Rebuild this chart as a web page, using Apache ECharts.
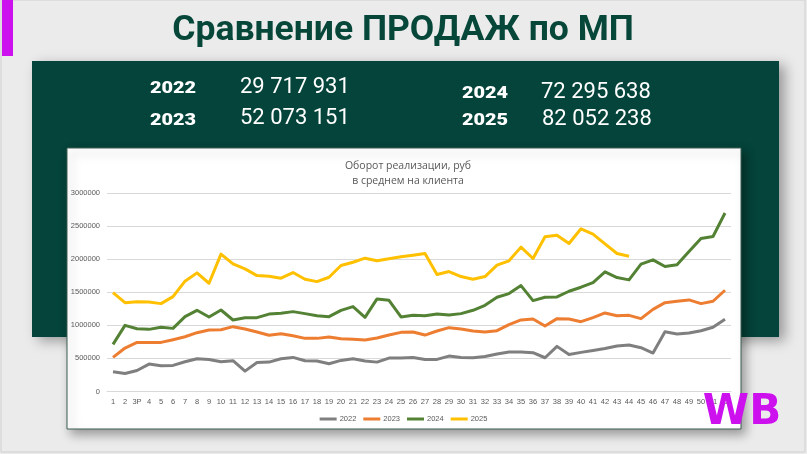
<!DOCTYPE html>
<html>
<head>
<meta charset="utf-8">
<script src="https://cdn.jsdelivr.net/npm/echarts@6/dist/echarts.min.js"></script>
<style>
html,body{margin:0;padding:0;background:#ebebeb;}
#c{width:807px;height:454px;}
</style>
</head>
<body>
<div id="c"></div>
<script>
const categories = ['1','2','3Р','4','5','6','7','8','9','10','11','12','13','14','15','16','17','18','19','20','21','22','23','24','25','26','27','28','29','30','31','32','33','34','35','36','37','38','39','40','41','42','43','44','45','46','47','48','49','50','51','52'];
const seriesNames = ['2022','2023','2024','2025'];
const s2022 = [298000,273000,318000,414000,389000,394000,449000,495000,485000,449000,465000,308000,437000,444000,495000,515000,465000,460000,419000,470000,495000,460000,444000,505000,505000,515000,485000,485000,535000,515000,510000,530000,566000,596000,596000,586000,510000,682000,558000,591000,621000,651000,687000,702000,662000,581000,904000,869000,884000,919000,970000,1091000];
const s2023 = [515000,657000,742000,742000,742000,783000,828000,889000,929000,934000,980000,944000,899000,850000,874000,843000,803000,803000,823000,798000,788000,778000,808000,853000,894000,899000,853000,914000,965000,944000,914000,899000,919000,1010000,1081000,1096000,990000,1101000,1096000,1055000,1116000,1187000,1146000,1151000,1101000,1242000,1343000,1364000,1384000,1328000,1364000,1530000];
const s2024 = [712000,1000000,949000,939000,970000,954000,1131000,1227000,1126000,1232000,1081000,1116000,1116000,1170000,1182000,1207000,1177000,1146000,1131000,1227000,1283000,1121000,1399000,1379000,1126000,1153000,1146000,1172000,1156000,1177000,1227000,1303000,1424000,1480000,1601000,1374000,1424000,1429000,1515000,1576000,1646000,1808000,1722000,1687000,1924000,1990000,1889000,1914000,2116000,2313000,2343000,2697000];
const s2025 = [1495000,1343000,1358000,1353000,1328000,1434000,1667000,1793000,1636000,2076000,1929000,1853000,1752000,1742000,1712000,1798000,1697000,1661000,1727000,1904000,1954000,2015000,1975000,2005000,2035000,2060000,2086000,1768000,1813000,1737000,1697000,1737000,1909000,1975000,2182000,2010000,2338000,2363000,2237000,2459000,2379000,2232000,2086000,2045000];
const yMin = 0, yMax = 3000000, yStep = 500000;
const slideTitle = 'Сравнение ПРОДАЖ по МП';
const chartTitle = 'Оборот реализации, руб\nв среднем на клиента';
const totalYears = ['2022','2023','2024','2025'];
const totalValues = ['29 717 931','52 073 151','72 295 638','82 052 238'];
const colors = ['#7f7f7f','#ed7d31','#548235','#ffc000'];

const chart = echarts.init(document.getElementById('c'), null, {renderer:'canvas'});
const dataArr = [s2022,s2023,s2024,s2025];

const yearPos = [[150,89],[150,121],[462,94],[462,121]];
const valPos = [[240,87],[240,118],[541,92],[542,119]];

const graphics = [
  {type:'rect', z:-20, shape:{x:1,y:0,width:804,height:452}, style:{fill:'#ebebeb', stroke:'#d0d0d0', lineWidth:1}},
  {type:'rect', z:-19, shape:{x:2,y:0,width:11,height:56}, style:{fill:'#cc11ee'}},
  {type:'rect', z:-18, shape:{x:32,y:61,width:747,height:276}, style:{fill:'#05443a', shadowBlur:12, shadowColor:'rgba(0,0,0,0.35)', shadowOffsetX:6, shadowOffsetY:4}},
  {type:'rect', z:-17, shape:{x:67,y:148,width:674,height:281}, style:{fill:'#ffffff', stroke:'#3d5e54', lineWidth:1, shadowBlur:10, shadowColor:'rgba(0,0,0,0.35)', shadowOffsetX:4, shadowOffsetY:5}},
  {type:'text', z:10, x:403, y:31, style:{text:slideTitle, fill:'#07473a', font:'bold 35.5px Roboto', align:'center', verticalAlign:'middle'}},
  {type:'text', z:10, x:742, y:413, style:{text:'WB', fill:'#cc11ee', font:'900 42px "DejaVu Sans"', align:'center', verticalAlign:'middle', shadowBlur:8, shadowColor:'rgba(0,0,0,0.35)', shadowOffsetX:2, shadowOffsetY:3}}
];
totalYears.forEach((y,i)=>{
  graphics.push({type:'text', z:10, x:yearPos[i][0], y:yearPos[i][1], scaleX:1.17, style:{text:y, fill:'#ffffff', font:'900 17px Roboto', verticalAlign:'middle'}});
  graphics.push({type:'text', z:10, x:valPos[i][0], y:valPos[i][1], style:{text:totalValues[i], fill:'#ffffff', font:'22px Roboto', verticalAlign:'middle'}});
});

chart.setOption({
  animation:false,
  backgroundColor:'transparent',
  color:colors,
  title:{
    text:chartTitle, left:403, top:154, textAlign:'center',
    textStyle:{fontSize:10.5, fontWeight:'normal', color:'#595959', fontFamily:'"Open Sans"', lineHeight:15}
  },
  legend:{
    data:seriesNames.map(n=>({name:n, icon:'rect'})),
    left:'center', top:410, itemWidth:17, itemHeight:3, itemGap:7,
    textStyle:{fontSize:7.5, color:'#595959', padding:[0,0,0,-2]}
  },
  graphic:graphics,
  grid:{left:107, right:76, top:193, bottom:62.5, containLabel:false},
  xAxis:{
    type:'category', data:categories, boundaryGap:true,
    axisLine:{show:true, lineStyle:{color:'#d9d9d9'}}, axisTick:{show:false},
    axisLabel:{fontSize:7.5, color:'#595959', margin:6, interval:0}
  },
  yAxis:{
    type:'value', min:yMin, max:yMax, interval:yStep,
    axisLine:{show:false}, axisTick:{show:false},
    axisLabel:{fontSize:7.5, color:'#595959', margin:7, formatter:v=>String(v)},
    splitLine:{lineStyle:{color:'#d9d9d9', width:1}}
  },
  series:seriesNames.map((n,i)=>({
    name:n, type:'line', data:dataArr[i], symbol:'none', smooth:false,
    lineStyle:{width:3, color:colors[i], join:'round'}, itemStyle:{color:colors[i]}
  }))
});
</script>
</body>
</html>
